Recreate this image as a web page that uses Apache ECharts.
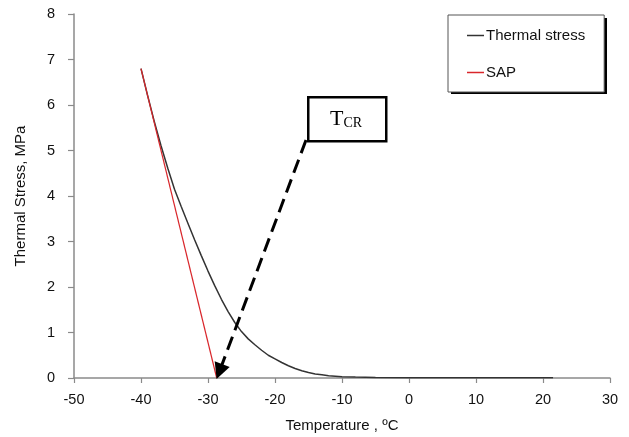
<!DOCTYPE html>
<html>
<head>
<meta charset="utf-8">
<script src="https://cdn.jsdelivr.net/npm/echarts@6/dist/echarts.min.js"></script>
<style>
html,body{margin:0;padding:0;background:#fff;}
#chart{width:629px;height:437px;}
</style>
</head>
<body>
<div id="chart"></div>
<script>
// Thermal stress curve
const thermalTemp = [-40, -39, -38, -37, -36, -35, -34, -33, -32, -31, -30, -29, -28, -27, -26, -25, -24, -23, -22, -21, -20, -19, -18, -17, -16, -15, -14, -13, -12, -11, -10, -8, -5, 0, 5, 10, 15, 21.5];
const thermalStress = [6.80, 6.20, 5.63, 5.10, 4.61, 4.15, 3.77, 3.40, 3.04, 2.69, 2.35, 2.03, 1.73, 1.46, 1.22, 1.02, 0.86, 0.73, 0.61, 0.50, 0.42, 0.34, 0.27, 0.21, 0.16, 0.12, 0.09, 0.07, 0.05, 0.04, 0.03, 0.02, 0.012, 0.008, 0.006, 0.005, 0.005, 0.005];
// SAP line
const sapTemp = [-40, -28.7];
const sapStress = [6.8, 0];
// TCR arrow (start at label box corner, end at critical temperature)
const arrowStart = [-15.37, 5.23];
const arrowEnd = [-28.3, 0.14];
const seriesNames = ['Thermal stress', 'SAP'];
const xAxisName = 'Temperature , ºC';
const yAxisName = 'Thermal Stress, MPa';

const chart = echarts.init(document.getElementById('chart'), null, {renderer: 'canvas'});
const font = 'Liberation Sans, Arial, sans-serif';
const axisGray = '#8a8a8a';

chart.setOption({
  animation: false,
  backgroundColor: '#fff',
  grid: {left: 74, right: 19, top: 14, bottom: 59, containLabel: false, outerBoundsMode: 'none'},
  legend: {
    data: seriesNames.map(n => ({name: n, icon: 'rect'})),
    orient: 'vertical',
    left: 448, top: 15,
    padding: [13, 19, 12, 19],
    itemGap: 22,
    itemWidth: 17, itemHeight: 1.5,
    backgroundColor: '#fff',
    borderColor: '#555', borderWidth: 1,
    textStyle: {fontFamily: font, fontSize: 15, color: '#111', padding: [0,0,0,-3]}
  },
  xAxis: {
    type: 'value', min: -50, max: 30, interval: 10,
    name: xAxisName, nameLocation: 'middle', nameGap: 40,
    nameTextStyle: {fontFamily: font, fontSize: 15, color: '#111'},
    axisLine: {show: true, onZero: false, lineStyle: {color: axisGray, width: 1.5}},
    axisTick: {show: true, length: 5, lineStyle: {color: axisGray, width: 1.2}},
    axisLabel: {fontFamily: font, fontSize: 14.5, color: '#111', margin: 14},
    splitLine: {show: false}
  },
  yAxis: {
    type: 'value', min: 0, max: 8, interval: 1,
    name: yAxisName, nameLocation: 'middle', nameGap: 46,
    nameTextStyle: {fontFamily: font, fontSize: 15, color: '#111'},
    axisLine: {show: true, onZero: false, lineStyle: {color: axisGray, width: 1.5}},
    axisTick: {show: true, length: 6, lineStyle: {color: axisGray, width: 1.2}},
    axisLabel: {fontFamily: font, fontSize: 14.5, color: '#111', margin: 19},
    splitLine: {show: false}
  },
  series: [
    {
      name: seriesNames[0], type: 'line', symbol: 'none', smooth: false,
      data: thermalTemp.map((t, i) => [t, thermalStress[i]]),
      lineStyle: {color: '#333', width: 1.5}, itemStyle: {color: '#333'}
    },
    {
      name: seriesNames[1], type: 'line', symbol: 'none',
      data: sapTemp.map((t, i) => [t, sapStress[i]]),
      lineStyle: {color: '#d9262b', width: 1.2}, itemStyle: {color: '#d9262b'}
    },
    {
      name: 'arrow', type: 'line', symbol: 'none', data: [],
      markLine: {
        silent: true, animation: false,
        symbol: ['none', 'triangle'], symbolSize: 16,
        label: {show: false},
        itemStyle: {color: '#000'},
        lineStyle: {color: '#000', width: 3, type: [14, 7]},
        data: [[{coord: arrowStart}, {coord: arrowEnd}]]
      }
    }
  ],
  graphic: [
    {
      type: 'rect', left: 451, top: 18, z: -1,
      shape: {width: 156, height: 76},
      style: {fill: '#000'}
    },
    {
      type: 'rect', left: 307, top: 96, z: 100,
      shape: {width: 78, height: 44},
      style: {fill: '#fff', stroke: '#000', lineWidth: 2.5}
    },
    {
      type: 'text', z: 101, left: 330, top: 108,
      style: {
        text: '{t|T}{s|CR}',
        rich: {
          t: {fontFamily: 'Liberation Serif, Times New Roman, serif', fontSize: 22, color: '#222', verticalAlign: 'bottom'},
          s: {fontFamily: 'Liberation Serif, Times New Roman, serif', fontSize: 14, color: '#222', verticalAlign: 'bottom'}
        }
      }
    }
  ]
});
</script>
</body>
</html>
